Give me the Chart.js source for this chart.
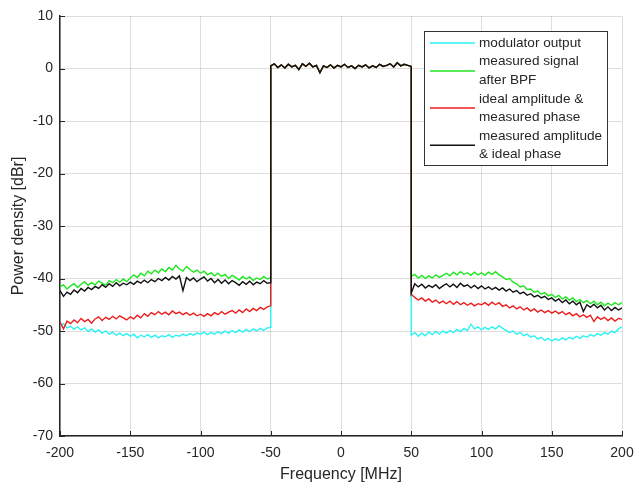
<!DOCTYPE html>
<html>
<head>
<meta charset="utf-8">
<script src="https://cdn.jsdelivr.net/npm/chart.js@4.4.1/dist/chart.umd.min.js"></script>
<style>
    html, body { margin: 0; padding: 0; background: #fff; }
    #wrap { width: 636px; height: 484px; }
</style>
</head>
<body>
<div id="wrap"><canvas id="chart" width="636" height="484"></canvas></div>
<script>
// frequency grid, MHz (2.5 MHz bins)
function range(a, b, step) {
    var out = [];
    for (var v = a; v <= b + 1e-9; v += step) out.push(v);
    return out;
}
const freqLeft = range(-200, -50, 2.5);
const freqBand = range(-50, 50, 2.5);
const freqRight = range(50, 200, 2.5);

const xTicks = [-200, -150, -100, -50, 0, 50, 100, 150, 200];
const yTicks = [-70, -60, -50, -40, -30, -20, -10, 0, 10];

const seriesNames = [
    ["modulator output"],
    ["measured signal", "after BPF"],
    ["ideal amplitude &", "measured phase"],
    ["measured amplitude", "& ideal phase"]
];
const seriesColors = ["#2af2f2", "#1ee61e", "#ec1c1c", "#111111"];

// in-band level (all four traces overlap here)
const inBand = [
    0.5, 0.9, 0.2, 0.7, 0.1, 0.8, 0.3, 0.6, -0.2, 0.9,
    0.4, 1.0, 0.3, 0.6, -0.8, 0.5, 0.2, 0.7, 0.1, 0.6,
    0.3, 0.8, 0.2, 0.5, 0.0, 0.6, 0.3, 0.7, 0.1, 0.5,
    0.2, 0.8, 0.4, 0.6, 0.9, 0.3, 1.1, 0.5, 0.8, 0.6,
    0.4
];

const cyanLeft = [
    -49.0, -48.6, -49.4, -49.1, -49.7, -49.2, -49.8, -49.4, -50.1, -49.6,
    -50.2, -49.8, -50.4, -50.0, -50.6, -50.2, -50.8, -50.4, -50.9, -50.5,
    -51.0, -50.6, -51.3, -50.8, -51.1, -50.7, -51.2, -50.8, -51.3, -50.9,
    -51.1, -50.7, -51.2, -50.8, -51.0, -50.6, -50.9, -50.5, -50.8, -50.4,
    -50.6, -50.2, -50.7, -50.3, -50.6, -50.1, -50.5, -50.0, -50.4, -49.9,
    -50.3, -49.8, -50.2, -49.7, -50.1, -49.6, -50.0, -49.5, -49.9, -49.4,
    -49.3
];
const cyanRight = [
    -50.8, -50.3, -51.0, -50.4, -50.9, -50.2, -50.7, -50.1, -50.6, -50.0,
    -50.4, -49.9, -50.3, -49.7, -50.1, -49.5, -49.9, -48.7, -49.6, -49.2,
    -49.8, -49.3, -49.7, -49.2, -49.6, -49.0, -49.5, -49.9, -50.3, -50.0,
    -50.6, -50.3, -50.9, -50.6, -51.2, -50.9, -51.5, -51.2, -51.8, -51.4,
    -51.9, -51.5, -51.8, -51.3, -51.7, -51.2, -51.5, -51.0, -51.4, -50.9,
    -51.2, -50.7, -51.0, -50.5, -50.8, -50.3, -50.6, -50.0, -50.3, -49.6,
    -49.2
];

const greenLeft = [
    -41.6, -41.2, -42.0, -41.4, -41.0, -41.7, -41.1, -40.6, -41.3, -40.8,
    -41.2, -40.5, -40.9, -41.3, -40.4, -40.8, -40.2, -40.7, -40.1, -40.6,
    -39.9, -39.3, -39.8, -39.0, -39.5, -38.6, -39.1, -38.4, -38.9, -38.2,
    -38.7, -37.9, -38.4, -37.5, -38.2, -38.6, -37.7, -38.3, -38.8, -38.4,
    -39.0, -38.6, -39.3, -38.9, -39.5, -39.0, -39.6, -39.2, -40.0, -39.4,
    -39.8, -40.3, -39.6, -40.1, -39.7, -40.4, -39.9, -40.2, -39.6, -40.1,
    -39.8
];
const greenRight = [
    -39.6, -39.2, -39.9, -39.4, -40.0, -39.5, -39.9, -39.3, -39.8, -39.4,
    -39.0, -39.5, -38.8, -39.3, -38.7, -39.2, -38.9, -39.4, -38.8, -39.3,
    -38.9, -39.4, -38.8, -39.2, -38.7, -39.3, -39.7, -40.2, -40.0, -40.7,
    -41.0, -41.6, -41.4, -42.1, -42.0, -42.6, -42.4, -43.0, -42.7, -43.3,
    -43.0, -43.6, -43.2, -43.9, -43.5, -44.1, -43.7, -44.4, -44.0, -44.6,
    -44.2, -44.8, -44.3, -45.0, -44.5, -45.2, -44.7, -45.1, -44.6, -45.0,
    -44.6
];

const redLeft = [
    -48.3, -49.6, -48.1, -48.6, -47.9, -48.4, -47.6, -48.2, -47.8, -48.5,
    -47.7, -47.3, -48.0, -47.4, -47.8, -47.2, -47.7, -47.1, -47.5, -47.9,
    -47.3, -47.7, -47.0, -47.5, -46.7, -47.2, -46.5, -46.9, -46.3, -46.8,
    -46.4, -46.9, -46.2, -46.7, -46.4, -46.9, -46.5, -47.0, -46.6, -47.1,
    -46.8, -47.2, -46.7, -47.1, -46.5, -46.9, -46.3, -46.8, -46.4, -46.1,
    -46.6, -46.0, -46.5, -45.8, -46.3, -45.7, -46.1, -45.5, -45.9, -45.4,
    -45.2
];
const redRight = [
    -43.0, -43.6, -44.1, -43.7, -44.3, -43.9, -44.5, -44.1, -44.7, -44.3,
    -44.8, -44.3, -44.9, -44.4, -45.0, -44.6, -45.1, -44.7, -45.2, -44.8,
    -45.0, -44.6, -45.1, -44.5, -45.0, -44.6, -45.3, -45.0, -45.6, -45.2,
    -45.8, -45.4, -46.0, -45.6, -46.2, -45.8, -46.4, -46.0, -46.5, -46.1,
    -46.6, -46.2, -46.7, -46.3, -46.9, -46.5, -47.1, -46.7, -47.3, -46.9,
    -47.4, -47.0, -48.2, -47.3, -47.8, -47.4, -48.0, -47.5, -48.1, -47.6,
    -47.8
];

const blackLeft = [
    -42.3, -43.4, -42.6, -43.0, -42.2, -42.7, -41.9, -42.4, -41.7, -42.1,
    -41.5, -41.9, -41.2, -41.7, -41.0, -41.5, -40.8, -41.4, -40.9, -41.2,
    -40.7, -41.1, -40.5, -40.9, -40.3, -40.8, -40.2, -40.6, -40.0, -40.4,
    -39.8, -40.3, -39.6, -40.1, -39.5, -42.3, -39.8, -40.4, -39.9, -40.6,
    -40.1, -39.7, -40.5, -40.0, -40.8, -40.2, -40.9, -40.3, -41.0, -40.4,
    -40.8, -41.3, -40.6, -41.1, -40.5, -41.2, -40.7, -41.0, -40.4, -40.9,
    -40.8
];
const blackRight = [
    -42.8, -41.0, -41.6, -41.1, -41.8, -41.3, -41.7, -41.2, -41.9, -41.4,
    -41.0, -41.6, -41.1, -41.7, -40.9, -41.5, -41.2, -41.8, -41.3, -41.9,
    -41.4, -42.0, -41.6, -42.1, -41.7, -42.2, -41.8, -42.4, -42.0, -42.6,
    -42.3, -42.9, -42.6, -43.2, -42.9, -43.5, -43.2, -43.7, -43.4, -44.0,
    -43.7, -44.3, -43.9, -44.6, -44.1, -44.8, -44.3, -45.0, -44.5, -46.3,
    -45.0, -45.5, -44.9, -45.6, -45.1, -46.0, -45.4, -46.1, -45.5, -46.0,
    -45.6
];

function buildTrace(left, right) {
    var pts = [];
    freqLeft.forEach(function (f, i) { pts.push({ x: f, y: left[i] }); });
    freqBand.forEach(function (f, i) { pts.push({ x: f, y: inBand[i] }); });
    freqRight.forEach(function (f, i) { pts.push({ x: f, y: right[i] }); });
    return pts;
}

const traces = [
    buildTrace(cyanLeft, cyanRight),
    buildTrace(greenLeft, greenRight),
    buildTrace(redLeft, redRight),
    buildTrace(blackLeft, blackRight)
];

const FONT = "'Liberation Sans', Arial, Helvetica, sans-serif";
const TEXT = "#262626";
const GRID = "rgba(0,0,0,0.13)";

// inward tick marks, like the matlab axes
const innerTicks = {
    id: "innerTicks",
    afterDatasetsDraw: function (chart) {
        var ctx = chart.ctx, a = chart.chartArea;
        var xs = chart.scales.x, ys = chart.scales.y;
        ctx.save();
        ctx.strokeStyle = TEXT;
        ctx.lineWidth = 1;
        ctx.beginPath();
        xTicks.forEach(function (t) {
            var px = Math.round(xs.getPixelForValue(t)) + 0.5;
            ctx.moveTo(px, a.bottom);
            ctx.lineTo(px, a.bottom - 5);
        });
        yTicks.forEach(function (t) {
            var py = Math.round(ys.getPixelForValue(t)) + 0.5;
            ctx.moveTo(a.left, py);
            ctx.lineTo(a.left + 5, py);
        });
        ctx.stroke();
        ctx.restore();
    }
};

// boxed legend with two-line labels
const boxLegend = {
    id: "boxLegend",
    afterDraw: function (chart) {
        var ctx = chart.ctx;
        var bx = 424.5, by = 31.5, bw = 183, bh = 134;
        ctx.save();
        ctx.fillStyle = "#fff";
        ctx.fillRect(bx, by, bw, bh);
        ctx.strokeStyle = "#333";
        ctx.lineWidth = 1;
        ctx.strokeRect(bx, by, bw, bh);
        ctx.font = "13.6px " + FONT;
        ctx.textBaseline = "middle";
        ctx.fillStyle = TEXT;
        var lineH = 18.6;
        var y = 43;
        seriesNames.forEach(function (lines, i) {
            var mid = y + (lines.length - 1) * lineH / 2;
            ctx.strokeStyle = seriesColors[i];
            ctx.lineWidth = 1.5;
            ctx.beginPath();
            ctx.moveTo(430, mid);
            ctx.lineTo(475, mid);
            ctx.stroke();
            lines.forEach(function (s, k) {
                ctx.fillText(s, 479, y + k * lineH);
            });
            y += lines.length * lineH;
        });
        ctx.restore();
    }
};

var ctx = document.getElementById("chart").getContext("2d");
new Chart(ctx, {
    type: "line",
    data: {
        datasets: traces.map(function (pts, i) {
            return {
                label: seriesNames[i].join(" "),
                data: pts,
                borderColor: seriesColors[i],
                borderWidth: 1.4,
                pointRadius: 0,
                tension: 0,
                fill: false,
                order: 3 - i
            };
        })
    },
    options: {
        responsive: false,
        animation: false,
        layout: { padding: { top: 16, right: 14, bottom: 0, left: 0 } },
        plugins: {
            legend: { display: false },
            tooltip: { enabled: false }
        },
        scales: {
            x: {
                type: "linear",
                min: -200,
                max: 200,
                afterFit: function (scale) {
                    scale.height = 48;
                    scale.paddingLeft = 0;
                    scale.paddingRight = 0;
                },
                afterBuildTicks: function (scale) {
                    scale.ticks = xTicks.map(function (v) { return { value: v }; });
                },
                ticks: { font: { family: FONT, size: 14 }, color: TEXT, padding: 9, maxRotation: 0 },
                grid: { color: GRID, drawTicks: false },
                border: { color: TEXT, width: 1.5 },
                title: {
                    display: true,
                    text: "Frequency [MHz]",
                    font: { family: FONT, size: 16 },
                    color: TEXT,
                    padding: { top: 0, bottom: 0 }
                }
            },
            y: {
                min: -70,
                max: 10,
                afterFit: function (scale) {
                    scale.width = 60;
                    scale.paddingTop = 0;
                    scale.paddingBottom = 0;
                },
                afterBuildTicks: function (scale) {
                    scale.ticks = yTicks.map(function (v) { return { value: v }; });
                },
                ticks: { font: { family: FONT, size: 14 }, color: TEXT, padding: 7 },
                grid: { color: GRID, drawTicks: false },
                border: { color: TEXT, width: 1.5 },
                title: {
                    display: true,
                    text: "Power density [dBr]",
                    font: { family: FONT, size: 16 },
                    color: TEXT,
                    padding: { top: 9, bottom: 0 }
                }
            }
        }
    },
    plugins: [innerTicks, boxLegend]
});
</script>
</body>
</html>
